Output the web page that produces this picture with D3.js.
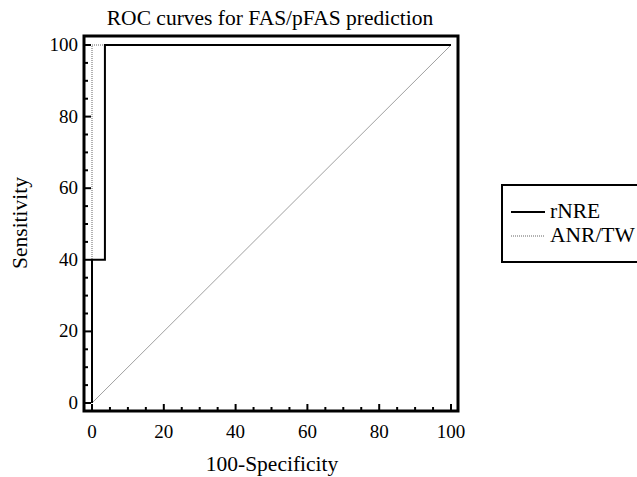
<!DOCTYPE html>
<html lang="en">
<head>
  <meta charset="utf-8">
  <title>ROC curves</title>
  <style>
    body { margin: 0; background: #fff; }
    svg text { font-family: "Liberation Serif", "Times New Roman", serif; fill: #000; }
  </style>
</head>
<body>
  <div id="chart"></div>
  <script src="https://d3js.org/d3.v7.min.js"></script>
  <script>
    // ROC points as [100-Specificity, Sensitivity]
    var seriesNames = ["rNRE", "ANR/TW"];
    var rnreFpr  = [0, 0, 3.6, 3.6, 100];
    var rnreTpr  = [0, 40, 40, 100, 100];
    var anrFpr   = [0, 0, 100];
    var anrTpr   = [0, 100, 100];
    var refLine  = [0, 100];
    var majorTicks = [0, 20, 40, 60, 80, 100];
    var minorTicks = d3.range(0, 101, 5);

    var W = 637, H = 477;
    var svg = d3.select("#chart").append("svg")
      .attr("width", W).attr("height", H);

    var x = d3.scaleLinear().domain([0, 100]).range([92, 451]);
    var y = d3.scaleLinear().domain([0, 100]).range([403, 45]);

    // frame
    var fx0 = 84, fx1 = 458, fy0 = 36, fy1 = 411;
    svg.append("rect")
      .attr("x", fx0).attr("y", fy0)
      .attr("width", fx1 - fx0).attr("height", fy1 - fy0)
      .attr("fill", "none").attr("stroke", "#000").attr("stroke-width", 3);

    // ticks (inward)
    var tg = svg.append("g").attr("stroke", "#000").attr("stroke-width", 2);
    minorTicks.forEach(function(t) {
      var len = majorTicks.indexOf(t) >= 0 ? 7 : 4;
      tg.append("line").attr("x1", x(t)).attr("x2", x(t))
        .attr("y1", fy1).attr("y2", fy1 - len);
      tg.append("line").attr("x1", fx0).attr("x2", fx0 + len)
        .attr("y1", y(t)).attr("y2", y(t));
    });

    svg.selectAll(".xl").data(majorTicks).enter().append("text")
      .attr("x", function(d) { return x(d); }).attr("y", 438)
      .attr("text-anchor", "middle").attr("font-size", 19)
      .text(function(d) { return d; });

    svg.selectAll(".yl").data(majorTicks).enter().append("text")
      .attr("x", 78).attr("y", function(d) { return y(d) + 6; })
      .attr("text-anchor", "end").attr("font-size", 19)
      .text(function(d) { return d; });

    // titles
    svg.append("text").attr("x", 270).attr("y", 25)
      .attr("text-anchor", "middle").attr("font-size", 21.5)
      .text("ROC curves for FAS/pFAS prediction");
    svg.append("text").attr("x", 272).attr("y", 471)
      .attr("text-anchor", "middle").attr("font-size", 21.5)
      .text("100-Specificity");
    svg.append("text")
      .attr("transform", "translate(27,223) rotate(-90)")
      .attr("text-anchor", "middle").attr("font-size", 21.5)
      .text("Sensitivity");

    var line = d3.line()
      .x(function(d) { return x(d[0]); })
      .y(function(d) { return y(d[1]); });

    // reference diagonal
    svg.append("path").datum(d3.zip(refLine, refLine))
      .attr("d", line).attr("fill", "none")
      .attr("stroke", "#888").attr("stroke-width", 0.8);

    svg.append("path").datum(d3.zip(anrFpr, anrTpr))
      .attr("d", line).attr("fill", "none")
      .attr("stroke", "#999").attr("stroke-width", 1.5)
      .attr("stroke-dasharray", "1,1");

    svg.append("path").datum(d3.zip(rnreFpr, rnreTpr))
      .attr("d", line).attr("fill", "none")
      .attr("stroke", "#000").attr("stroke-width", 2);

    // legend
    svg.append("rect").attr("x", 502).attr("y", 185)
      .attr("width", 160).attr("height", 77)
      .attr("fill", "none").attr("stroke", "#000").attr("stroke-width", 2);
    var styles = [
      { stroke: "#000", width: 2, dash: null },
      { stroke: "#999", width: 1.5, dash: "1,1" }
    ];
    seriesNames.forEach(function(name, i) {
      var ly = 212 + i * 24;
      svg.append("line").attr("x1", 511).attr("x2", 545)
        .attr("y1", ly).attr("y2", ly)
        .attr("stroke", styles[i].stroke).attr("stroke-width", styles[i].width)
        .attr("stroke-dasharray", styles[i].dash);
      svg.append("text").attr("x", 550).attr("y", ly + 6)
        .attr("font-size", 21.5).text(name);
    });
  </script>
</body>
</html>
